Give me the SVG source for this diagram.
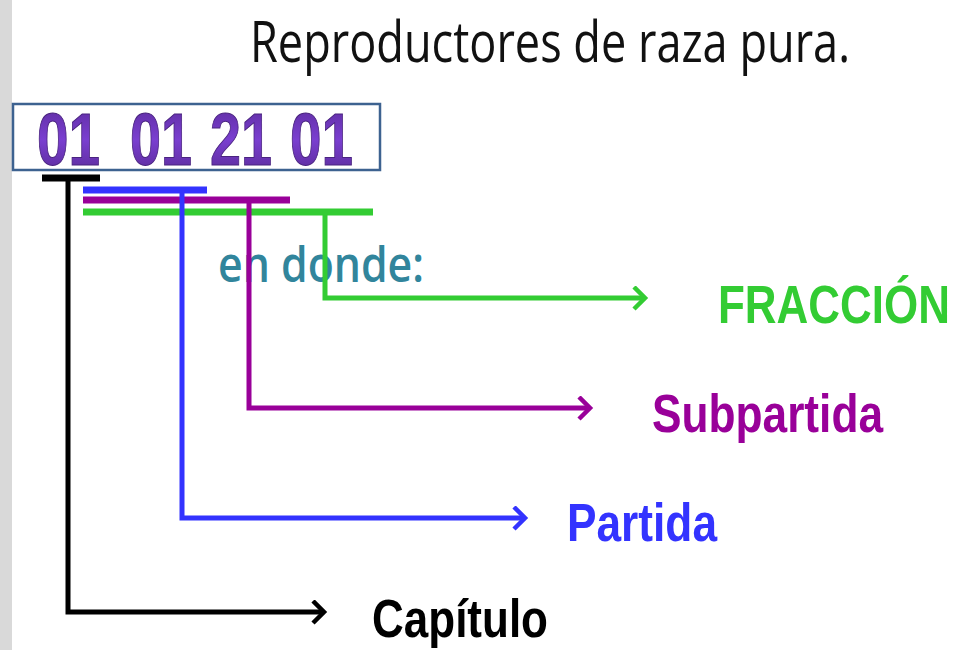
<svg xmlns="http://www.w3.org/2000/svg" width="959" height="650" viewBox="0 0 959 650">
  <defs>
    <style>
      .bar { fill: none; stroke-width: 7; }
      .conn { fill: none; stroke-width: 5; stroke-linejoin: miter; }
      .lbl { font-family: "Liberation Sans", Arial, sans-serif; font-weight: bold; font-size: 54px; }
      .code { font-family: "Liberation Sans", Arial, sans-serif; font-weight: bold; font-size: 74px; fill: url(#purp); stroke: #4a2480; stroke-width: 1; }
      .head { fill: none; stroke-width: 4.5; stroke-linecap: butt; stroke-linejoin: miter; }
    </style>
    <linearGradient id="purp" x1="0" y1="0" x2="0" y2="1">
      <stop offset="0" stop-color="#5a2a98"/>
      <stop offset="0.5" stop-color="#7a3fd0"/>
      <stop offset="1" stop-color="#55288f"/>
    </linearGradient>
    <marker id="aBlack" markerUnits="userSpaceOnUse" markerWidth="20" markerHeight="26" refX="13" refY="12" orient="auto">
      <path class="head" d="M2,1 L13,12 L2,23" stroke="#000000"/>
    </marker>
    <marker id="aBlue" markerUnits="userSpaceOnUse" markerWidth="20" markerHeight="26" refX="13" refY="12" orient="auto">
      <path class="head" d="M2,1 L13,12 L2,23" stroke="#3333ff"/>
    </marker>
    <marker id="aPurple" markerUnits="userSpaceOnUse" markerWidth="20" markerHeight="26" refX="13" refY="12" orient="auto">
      <path class="head" d="M2,1 L13,12 L2,23" stroke="#990099"/>
    </marker>
    <marker id="aGreen" markerUnits="userSpaceOnUse" markerWidth="20" markerHeight="26" refX="13" refY="12" orient="auto">
      <path class="head" d="M2,1 L13,12 L2,23" stroke="#33cc33"/>
    </marker>
  </defs>

  <rect x="0" y="0" width="959" height="650" fill="#ffffff"/>
  <rect x="0" y="0" width="12" height="650" fill="#d9d9d9"/>

  <g id="title">
    <text transform="scale(0.8,1)" x="312.5" y="62" font-family="'Open Sans', 'Liberation Sans', sans-serif" font-size="56" fill="#111111" textLength="750" lengthAdjust="spacingAndGlyphs">Reproductores de raza pura.</text>
  </g>

  <g id="code">
    <rect x="13" y="104" width="367" height="66" fill="none" stroke="#3d6290" stroke-width="2.5"/>
    <text class="code" x="37" y="165" textLength="63" lengthAdjust="spacingAndGlyphs">01</text>
    <text class="code" x="130" y="165" textLength="62" lengthAdjust="spacingAndGlyphs">01</text>
    <text class="code" x="210" y="165" textLength="62" lengthAdjust="spacingAndGlyphs">21</text>
    <text class="code" x="290" y="165" textLength="63" lengthAdjust="spacingAndGlyphs">01</text>
  </g>

  <g id="en-donde">
    <text x="218" y="282" font-family="'Open Sans', 'Liberation Sans', sans-serif" font-weight="600" font-size="48" fill="#31859c" textLength="206" lengthAdjust="spacingAndGlyphs">en donde:</text>
  </g>

  <g id="connectors">
    <path class="bar" d="M42,178 H100" stroke="#000000"/>
    <path class="bar" d="M83,190 H207" stroke="#3333ff"/>
    <path class="bar" d="M83,200 H290" stroke="#990099"/>
    <path class="bar" d="M83,212 H373" stroke="#33cc33"/>
    <path class="conn" d="M325,212 V298 H645" stroke="#33cc33" marker-end="url(#aGreen)"/>
    <path class="conn" d="M249,200 V408 H590" stroke="#990099" marker-end="url(#aPurple)"/>
    <path class="conn" d="M182,190 V518 H525" stroke="#3333ff" marker-end="url(#aBlue)"/>
    <path class="conn" d="M68,178 V612 H324" stroke="#000000" marker-end="url(#aBlack)"/>
  </g>

  <g id="fraccion">
    <text class="lbl" transform="scale(0.82,1)" x="875.6" y="323" fill="#33cc33" textLength="283" lengthAdjust="spacingAndGlyphs">FRACCIÓN</text>
  </g>
  <g id="subpartida">
    <text class="lbl" x="652" y="432" fill="#990099" textLength="231" lengthAdjust="spacingAndGlyphs">Subpartida</text>
  </g>
  <g id="partida">
    <text class="lbl" x="567" y="541" fill="#3333ff" textLength="150" lengthAdjust="spacingAndGlyphs">Partida</text>
  </g>
  <g id="capitulo">
    <text class="lbl" x="372" y="637" fill="#000000" textLength="176" lengthAdjust="spacingAndGlyphs">Capítulo</text>
  </g>
</svg>
